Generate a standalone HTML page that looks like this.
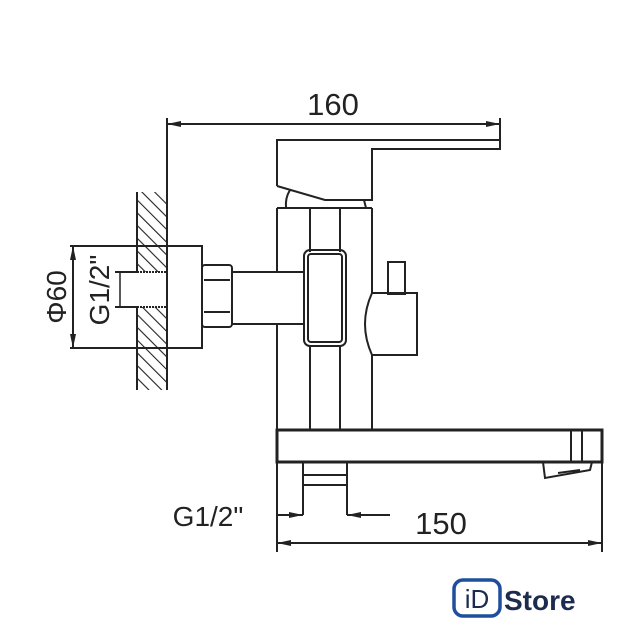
<!DOCTYPE html>
<html><head><style>body{margin:0;background:#fff}svg{display:block}</style></head><body>
<svg width="640" height="640" viewBox="0 0 640 640" xmlns="http://www.w3.org/2000/svg">
<defs>
<pattern id="h" width="9" height="9" patternUnits="userSpaceOnUse" patternTransform="rotate(-45)"><line x1="0" y1="0" x2="0" y2="9" stroke="#222" stroke-width="2.2"/></pattern>
<marker id="a" markerWidth="14" markerHeight="6" refX="14" refY="3" orient="auto-start-reverse" markerUnits="userSpaceOnUse"><path d="M0,0L14,3L0,6z" fill="#222"/></marker>
</defs>
<rect width="640" height="640" fill="#fff"/>
<g fill="none" stroke="#222" stroke-width="2">
<rect x="137" y="192" width="30" height="80" fill="url(#h)" stroke="none"/>
<rect x="137" y="307" width="30" height="83" fill="url(#h)" stroke="none"/>
<path d="M167,190 V272 M167,307 V390" />
<path d="M137,192 V272 M137,307 V390"/>
<path d="M137,272 H167 M137,307 H167" stroke-dasharray="2 1"/>
<line x1="167" y1="118" x2="167" y2="190"/>
<line x1="167" y1="124" x2="500" y2="124" marker-start="url(#a)" marker-end="url(#a)"/>
<line x1="500" y1="118" x2="500" y2="149"/>
<path d="M277,186 V140 H500 V149 H372 V200 H325 L277,186"/>
<path d="M290,190 Q285,198 286,208 M364,200 L366,208"/>
<path d="M277,208 H372 M277,208 V272 M277,324 V430 M310,208 V252 M310,345 V430 M340,208 V252 M340,345 V430 M372,208 V293 M372,355 V430"/>
<rect x="304" y="250" width="42" height="96" rx="6"/>
<rect x="308" y="254" width="34" height="88" rx="3"/>
<path d="M232,272 H305 M232,324 H305"/>
<rect x="202" y="265" width="30" height="62" rx="3"/>
<path d="M204,280 H230 M204,312 H230"/>
<rect x="167" y="246" width="35" height="102"/>
<rect x="388" y="262" width="17" height="32"/>
<path d="M417,293 H372 Q358,324 372,355 H417 Z"/>
<path d="M277,430 H602 V462 H277 Z" stroke-width="3"/>
<path d="M571,430 V462 M582,430 V462"/>
<path d="M543,462 L545,478 L590,470 L592,462 M558,473 L580,470"/>
<path d="M303,462 V515 M347,462 V515 M303,475 H347 M303,485 H347"/>
<line x1="277" y1="515" x2="303" y2="515" marker-end="url(#a)"/>
<line x1="390" y1="515" x2="347" y2="515" marker-end="url(#a)"/>
<path d="M277,462 V552 M602,462 V552"/>
<line x1="277" y1="543" x2="602" y2="543" marker-start="url(#a)" marker-end="url(#a)"/>
<path d="M70,246 H202 M70,348 H202"/>
<line x1="73" y1="246" x2="73" y2="348" marker-start="url(#a)" marker-end="url(#a)"/>
<path d="M115,272 H137 M115,307 H137"/>
<line x1="120" y1="272" x2="120" y2="307" stroke-width="1.5"/>
</g>
<g font-family="Liberation Sans, sans-serif" fill="#222" font-size="31">
<text x="333" y="115" text-anchor="middle">160</text>
<text x="441" y="534" text-anchor="middle">150</text>
<text x="208" y="526" text-anchor="middle" font-size="28">G1/2"</text>
<text transform="translate(66,297) rotate(-90)" text-anchor="middle" font-size="28">Φ60</text>
<text transform="translate(109,290) rotate(-90)" text-anchor="middle" font-size="28">G1/2"</text>
</g>
<rect x="454" y="580" width="46" height="36" rx="9" fill="#fff" stroke="#1f4e9c" stroke-width="3.5"/>
<text x="477" y="608" text-anchor="middle" font-family="Liberation Sans, sans-serif" font-size="26" fill="#1d2b4f">iD</text>
<text x="504" y="610" font-family="Liberation Sans, sans-serif" font-weight="bold" font-size="28" fill="#1d2b4f">Store</text>
</svg>
</body></html>
